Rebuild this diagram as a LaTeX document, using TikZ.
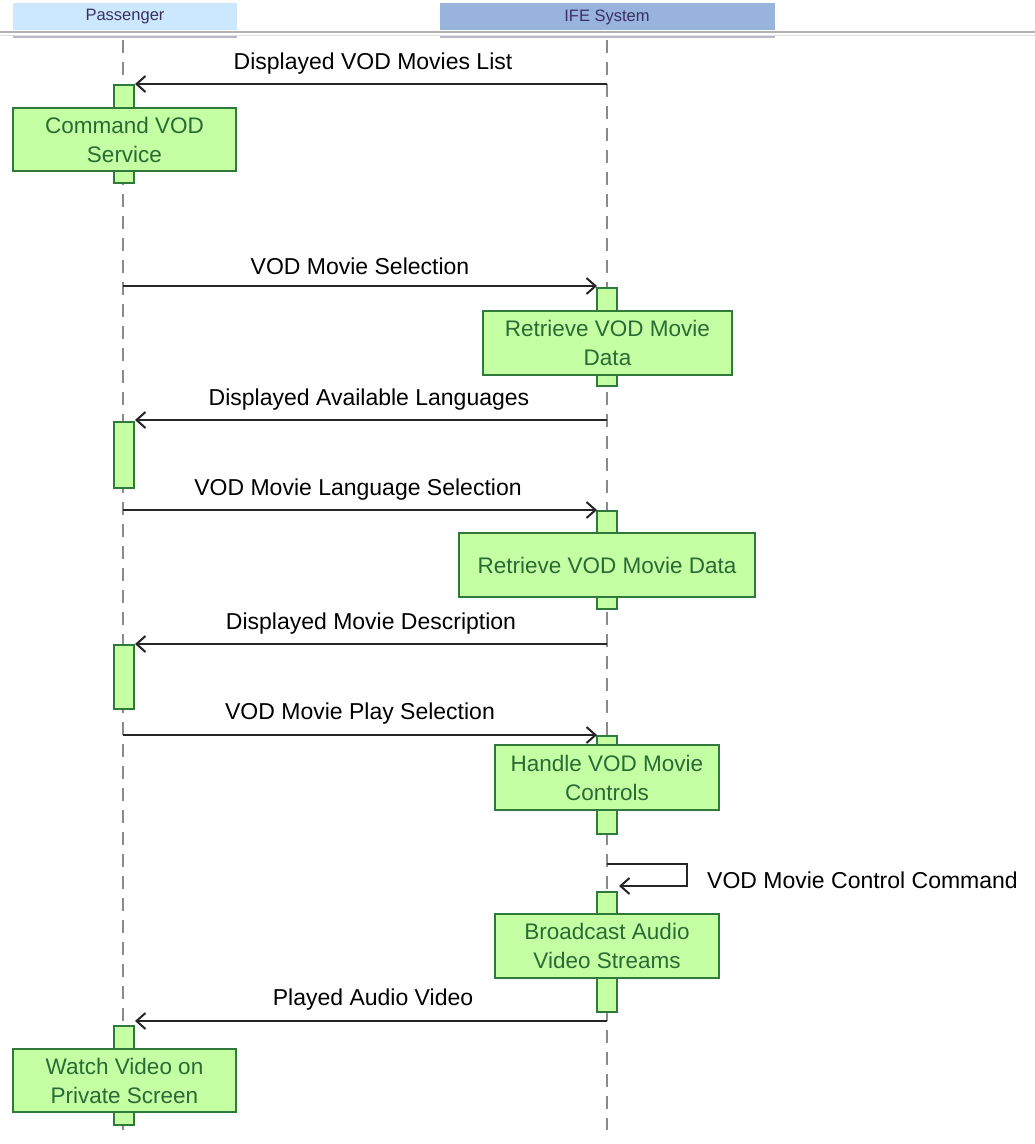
\documentclass[tikz,border=0pt]{standalone}
\usepackage{fontspec}
\setmainfont{Liberation Sans}
\usetikzlibrary{arrows.meta}
\definecolor{actfill}{HTML}{C4FFA4}
\definecolor{actdraw}{HTML}{2F7A3A}
\definecolor{acttext}{HTML}{2A6A34}
\definecolor{hdrA}{HTML}{CCE8FF}
\definecolor{hdrB}{HTML}{98B4DC}
\definecolor{hdrtext}{HTML}{3A3060}
\definecolor{lifeline}{HTML}{8A8A8A}
\tikzset{
  x=1pt,y=-1pt,
  lifeln/.style={draw=lifeline,line width=1.4pt,dash pattern=on 13pt off 9pt},
  actbar/.style={draw=actdraw,fill=actfill,line width=1.5pt},
  actbox/.style={draw=actdraw,fill=actfill,line width=1.5pt,text=acttext,font=\fontsize{22.5}{29}\selectfont,align=center,inner sep=0pt},
  msg/.style={draw=black!85,line width=2.1pt,-{Straight Barb[length=9pt,width=16pt,line width=2pt]}},
  msglbl/.style={font=\fontsize{23}{26}\selectfont,text=black,inner sep=0pt},
  hdr/.style={font=\fontsize{16.5}{18}\selectfont,text=hdrtext,inner sep=0pt}
}
\begin{document}
\begin{tikzpicture}
\useasboundingbox (0,0) rectangle (1035,1144);
\fill[white] (0,0) rectangle (1035,1144);
% header
\fill[hdrA] (13,3) rectangle (237,30);
\fill[hdrB] (440,3) rectangle (775,30);
\node[hdr] (hp) at (125,17) {Passenger};
\node[hdr] (hi) at (607,17) {IFE System};
\draw[black!30,line width=1.2pt] (0,32) -- (1035,32);
\draw[black!12,line width=1pt] (0,35) -- (1035,35);
\fill[hdrtext!35] (13,36) rectangle (237,38);
\fill[hdrtext!35] (440,36) rectangle (775,38);
% lifelines
\coordinate (pt) at (123,40); \coordinate (pb) at (123,1130);
\coordinate (it) at (607,40); \coordinate (ib) at (607,1130);
\draw[lifeln] (pt) -- (pb);
\draw[lifeln] (it) -- (ib);
% activations
\draw[actbar] (114,85) rectangle (134,183);
\node[actbox,minimum width=223pt,minimum height=63pt] (b1) at (124.5,139.5) {Command VOD\\Service};
\draw[actbar] (597,288) rectangle (617,386);
\node[actbox,minimum width=249pt,minimum height=64pt] (b2) at (607.5,343) {Retrieve VOD Movie\\Data};
\draw[actbar] (114,422) rectangle (134,488);
\draw[actbar] (597,511) rectangle (617,609);
\node[actbox,minimum width=296pt,minimum height=64pt] (b3) at (607,565) {Retrieve VOD Movie Data};
\draw[actbar] (114,645) rectangle (134,709);
\draw[actbar] (597,736) rectangle (617,834);
\node[actbox,minimum width=224pt,minimum height=65pt] (b4) at (607,777.5) {Handle VOD Movie\\Controls};
\draw[actbar] (597,892) rectangle (617,1012);
\node[actbox,minimum width=224pt,minimum height=64pt] (b5) at (607,946) {Broadcast Audio\\Video Streams};
\draw[actbar] (114,1026) rectangle (134,1125);
\node[actbox,minimum width=223pt,minimum height=63pt] (b6) at (124.5,1080.5) {Watch Video on\\Private Screen};
% messages
\coordinate (m1s) at (607,84); \coordinate (m1e) at (135,84);
\draw[msg] (m1s) -- (m1e);
\node[msglbl] (l1) at (373,64) {Displayed VOD Movies List};
\coordinate (m2s) at (123,286); \coordinate (m2e) at (597,286);
\draw[msg] (m2s) -- (m2e);
\node[msglbl] (l2) at (360,266) {VOD Movie Selection};
\coordinate (m3s) at (607,420); \coordinate (m3e) at (135,420);
\draw[msg] (m3s) -- (m3e);
\node[msglbl] (l3) at (369,400) {Displayed Available Languages};
\coordinate (m4s) at (123,510); \coordinate (m4e) at (597,510);
\draw[msg] (m4s) -- (m4e);
\node[msglbl] (l4) at (358,490) {VOD Movie Language Selection};
\coordinate (m5s) at (607,644); \coordinate (m5e) at (135,644);
\draw[msg] (m5s) -- (m5e);
\node[msglbl] (l5) at (371,624) {Displayed Movie Description};
\coordinate (m6s) at (123,735); \coordinate (m6e) at (597,735);
\draw[msg] (m6s) -- (m6e);
\node[msglbl] (l6) at (360,714) {VOD Movie Play Selection};
\coordinate (m7s) at (607,864); \coordinate (m7e) at (619,886);
\draw[msg] (m7s) -- (687,864) -- (687,886) -- (m7e);
\node[msglbl,anchor=west] (l7) at (707,880) {VOD Movie Control Command};
\coordinate (m8s) at (607,1021); \coordinate (m8e) at (135,1021);
\draw[msg] (m8s) -- (m8e);
\node[msglbl] (l8) at (373,1000) {Played Audio Video};
\end{tikzpicture}
\end{document}
